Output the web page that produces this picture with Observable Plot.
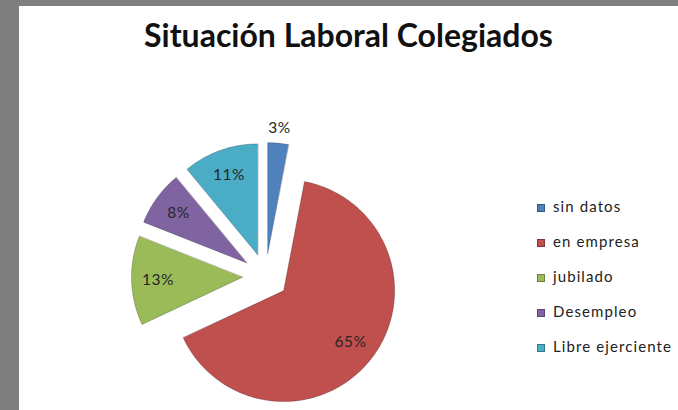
<!DOCTYPE html>
<html>
<head>
<meta charset="utf-8">
<script src="https://cdn.jsdelivr.net/npm/d3@7"></script>
<script src="https://cdn.jsdelivr.net/npm/@observablehq/plot@0.6"></script>
<style>
  html, body { margin: 0; padding: 0; }
  body { width: 678px; height: 410px; background: #7f7f7f; position: relative; overflow: hidden; font-family: Lato, "Open Sans", sans-serif; }
  #panel { position: absolute; left: 19px; top: 6px; width: 659px; height: 404px; background: #ffffff; }
  #chart { position: absolute; left: 0; top: 0; }
  #chart svg { background: transparent !important; }
  #title { position: absolute; left: 19px; width: 659px; top: 18px; text-align: center; font-weight: bold; font-size: 32px; color: #111; line-height: 34px; }
  .leg { position: absolute; left: 537px; font-size: 15px; color: #222; letter-spacing: 1.1px; line-height: 16px; white-space: nowrap; }
  .leg span.sw { display: inline-block; box-sizing: border-box; width: 8px; height: 8px; margin-right: 8px; vertical-align: 0px; border: 0.5px solid rgba(0,0,0,0.3); }
</style>
</head>
<body>
<div id="panel"></div>
<div id="chart"></div>
<div id="title">Situación Laboral Colegiados</div>
<div id="legend"></div>
<script>
// ---- data ----
const categories = ["sin datos", "en empresa", "jubilado", "Desempleo", "Libre ejerciente"];
const values = [3, 65, 13, 8, 11];
const labels = ["3%", "65%", "13%", "8%", "11%"];
const colors = ["#4F81BD", "#C0504D", "#9BBB59", "#8064A2", "#4BACC6"];

// ---- geometry (unit radius pie, exploded) ----
const explode = 0.207;
const arcs = d3.pie().sort(null).startAngle(0).endAngle(2 * Math.PI)(values);
const slicePts = [];
const labelPts = [];
arcs.forEach((a, i) => {
  const mid = (a.startAngle + a.endAngle) / 2;
  const vx = explode * Math.sin(mid), vy = explode * Math.cos(mid);
  slicePts.push({name: categories[i], x: vx, y: vy});
  const n = Math.max(2, Math.ceil((a.endAngle - a.startAngle) / (Math.PI / 180)));
  for (let k = 0; k <= n; k++) {
    const t = a.startAngle + (a.endAngle - a.startAngle) * k / n;
    slicePts.push({name: categories[i], x: vx + Math.sin(t), y: vy + Math.cos(t)});
  }
  const share = values[i] / d3.sum(values);
  const lr = share < 0.05 ? 1.34 : 0.97;
  labelPts.push({text: labels[i], x: lr * Math.sin(mid), y: lr * Math.cos(mid)});
});

const R = 111, CX = 265, CY = 276, W = 678, H = 410;
const chart = Plot.plot({
  width: W, height: H, margin: 0,
  style: {background: "transparent"},
  x: {domain: [-CX / R, (W - CX) / R], range: [0, W], axis: null},
  y: {domain: [-(H - CY) / R, CY / R], range: [H, 0], axis: null},
  color: {domain: categories, range: colors, legend: false},
  marks: [
    Plot.line(slicePts, {x: "x", y: "y", z: "name", fill: "name", stroke: "rgba(0,0,0,0.28)", strokeWidth: 0.8, curve: "linear-closed"}),
    Plot.text(labelPts, {x: "x", y: "y", text: "text", fontSize: 15.5, fill: "#262626", fontFamily: "Lato, sans-serif"})
  ]
});
document.getElementById("chart").appendChild(chart);
chart.querySelectorAll("text").forEach(t => t.setAttribute("letter-spacing", "0.5"));

const legend = document.getElementById("legend");
categories.forEach((c, i) => {
  const d = document.createElement("div");
  d.className = "leg";
  d.style.top = (198 + i * 35) + "px";
  d.innerHTML = `<span class="sw" style="background:${colors[i]}"></span>${c}`;
  legend.appendChild(d);
});
</script>
</body>
</html>
